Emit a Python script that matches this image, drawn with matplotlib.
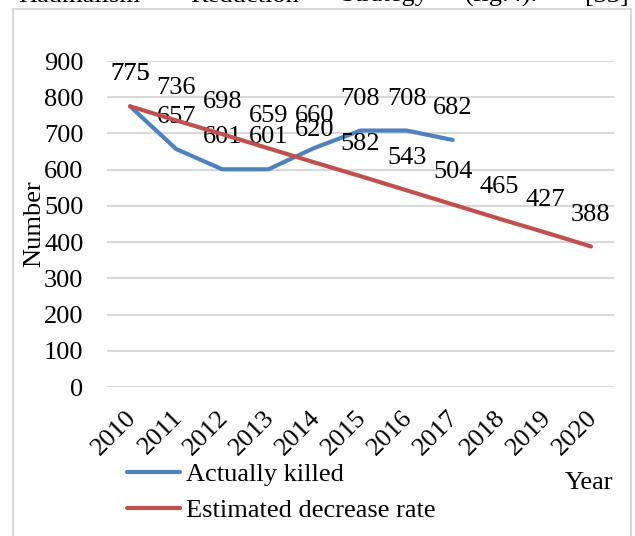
import matplotlib.pyplot as plt
from matplotlib.patches import Rectangle
from matplotlib.transforms import ScaledTranslation

plt.rcParams['font.family'] = ['Liberation Serif', 'DejaVu Serif']

years = ['2010', '2011', '2012', '2013', '2014', '2015', '2016',
         '2017', '2018', '2019', '2020']
killed = [775, 657, 601, 601, 660, 708, 708, 682]
estimated = [775, 736, 698, 659, 620, 582, 543, 504, 465, 427, 388]
yticks = [0, 100, 200, 300, 400, 500, 600, 700, 800, 900]

blue = '#4F81BD'
red = '#C0504D'
fs = 19

fig = plt.figure(figsize=(6.35, 5.36), dpi=100)
W, H = 635, 536

# outer chart frame
fig.patches.append(Rectangle((13 / W, -0.05), 618 / W, 1.05 - 9 / H,
                             transform=fig.transFigure, fill=False,
                             edgecolor='#d9d9d9', lw=1.5))

# cut-off caption line from the page above
for word, x in [('Haumaiism', 18), ('Reduction', 190), ('Strategy', 340),
                ('(fig.4).', 465), ('[33]', 585)]:
    fig.text(x / W, 1 - 1.5 / H, word, fontsize=fs, va='baseline', ha='left')

ax = fig.add_axes([107 / W, 1 - 387 / H, 507 / W, 326 / H])
x = list(range(len(years)))

ax.plot(x[:len(killed)], killed, color=blue, lw=3, solid_capstyle='round',
        solid_joinstyle='round', label='Actually killed', zorder=3)
ax.plot(x, estimated, color=red, lw=3, solid_capstyle='round',
        label='Estimated decrease rate', zorder=4)

for i, v in enumerate(killed):
    ax.annotate(str(v), (i, v), xytext=(0, 23), textcoords='offset points',
                ha='center', va='center', fontsize=fs)
for i, v in enumerate(estimated):
    ax.annotate(str(v), (i, v), xytext=(0, 23), textcoords='offset points',
                ha='center', va='center', fontsize=fs)

ax.set_xlim(-0.5, len(years) - 0.5)
ax.set_ylim(0, 900)
ax.set_yticks(yticks)
ax.set_xticks(x)
ax.set_xticklabels(years, rotation=45, ha='right', va='top',
                   rotation_mode='anchor')
ax.tick_params(axis='both', length=0, labelsize=fs)
ax.tick_params(axis='x', pad=14)
ax.tick_params(axis='y', pad=17)
shift = ScaledTranslation(-5 / 100, 0, fig.dpi_scale_trans)
for lab in ax.get_xticklabels():
    lab.set_transform(lab.get_transform() + shift)
ax.grid(axis='y', color='#d9d9d9', lw=1.5)
ax.set_axisbelow(True)
for s in ax.spines.values():
    s.set_visible(False)

fig.text(34 / W, 1 - 224 / H, 'Number', rotation=90, fontsize=fs,
         ha='center', va='center')
fig.text(589 / W, 1 - 483 / H, 'Year', fontsize=fs, ha='center', va='center')

fig.legend(loc='upper left', bbox_to_anchor=(127 / W, 1 - 463 / H),
           frameon=False, fontsize=fs, handlelength=2.0, handletextpad=0.25,
           labelspacing=0.45, borderpad=0, borderaxespad=0)

fig.savefig('out.png', dpi=100)
